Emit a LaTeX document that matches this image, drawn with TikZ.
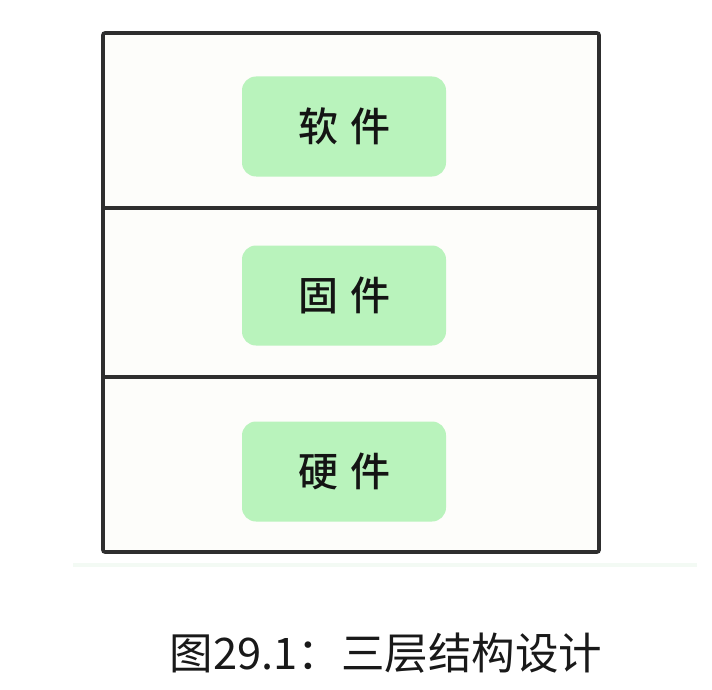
\documentclass[tikz,border=0pt]{standalone}
\usepackage{fontspec}
\newfontfamily\cjk{Noto Sans CJK SC}
\newfontfamily\cjkb{Noto Sans CJK SC Medium}
\definecolor{layerfill}{HTML}{FDFDFA}
\definecolor{greenfill}{HTML}{B9F3BC}
\definecolor{edgegray}{HTML}{2E2E2E}
\definecolor{stripcol}{HTML}{F3FAF4}
\begin{document}
\begin{tikzpicture}[x=1pt,y=-1pt,
  layer/.style={draw=edgegray,line width=3.6pt,fill=layerfill},
  tag/.style={fill=greenfill,rounded corners=14pt,minimum width=204pt,minimum height=100pt,inner sep=0pt,font=\cjkb\fontsize{40}{42}\selectfont,text=black!92},
  capt/.style={font=\cjk\fontsize{43.5}{46}\selectfont,text=black!90,inner sep=0pt}]
\useasboundingbox (0,0) rectangle (712,690);
\fill[white] (0,0) rectangle (712,690);
\fill[stripcol] (73,563) rectangle (697,567);
\draw[layer,rounded corners=2pt] (103,33) rectangle (599,552);
\draw[edgegray,line width=3.6pt] (103,208) -- (599,208);
\draw[edgegray,line width=3.6pt] (103,377) -- (599,377);
\node[tag] (sw) at (344,126.5) {软\hspace{12pt}件};
\node[tag] (fw) at (344,295.5) {固\hspace{12pt}件};
\node[tag] (hw) at (344,471.5) {硬\hspace{12pt}件};
\node[capt] (cap) at (386,653) {图29.1：三层结构设计};
\end{tikzpicture}
\end{document}
